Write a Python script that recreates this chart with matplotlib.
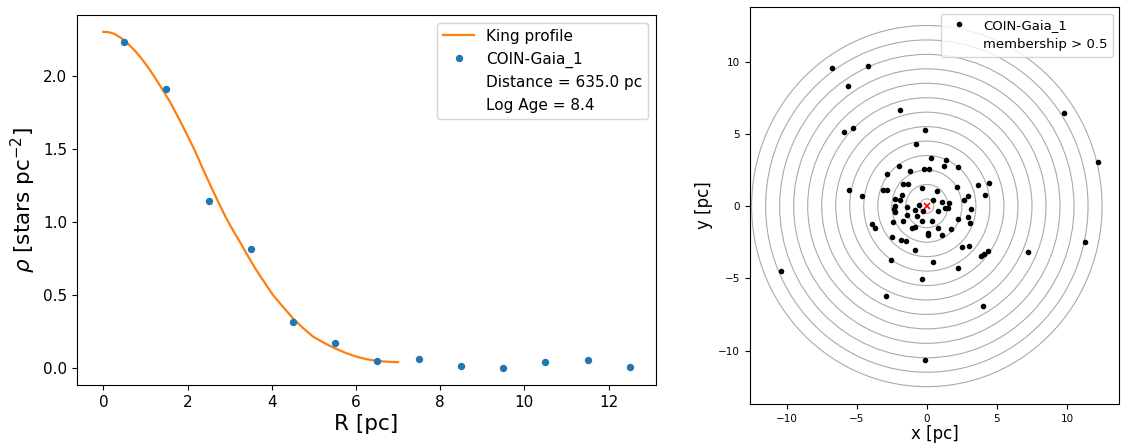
import matplotlib
matplotlib.use("Agg")
import matplotlib.pyplot as plt
from matplotlib.patches import Circle

# ---- Left panel: radial density profile ----
r_bins = [0.5, 1.5, 2.5, 3.5, 4.5, 5.5, 6.5, 7.5, 8.5, 9.5, 10.5, 11.5, 12.5]
rho_obs = [2.228, 1.909, 1.146, 0.818, 0.319, 0.173, 0.048, 0.064, 0.018, 0.0, 0.045, 0.055, 0.011]

king_r = [0.0, 0.15, 0.27, 0.42, 0.58, 0.74, 0.90, 1.06, 1.22, 1.46, 1.62, 1.77, 1.97, 2.17,
          2.36, 2.56, 2.74, 2.92, 3.08, 3.24, 3.43, 3.63, 3.83, 4.03, 4.27, 4.50, 4.74,
          4.98, 5.24, 5.49, 5.75, 6.01, 6.24, 6.48, 6.75, 7.0]
king_rho = [2.300, 2.296, 2.285, 2.258, 2.220, 2.174, 2.120, 2.058, 1.990, 1.880, 1.802,
            1.720, 1.607, 1.490, 1.365, 1.240, 1.130, 1.025, 0.942, 0.865, 0.768, 0.672,
            0.585, 0.500, 0.418, 0.342, 0.275, 0.216, 0.173, 0.137, 0.105, 0.079, 0.062,
            0.050, 0.044, 0.041]

cluster_name = "COIN-Gaia_1"
distance_pc = 635.0
log_age = 8.4

# ---- Right panel: member positions ----
star_x = [-6.77, -4.23, -5.59, -1.90, 9.76, -5.92, -5.27, -0.12, 12.23, -0.76,
          0.31, 1.38, -1.97, -0.17, 0.17, 1.21, 2.19, -1.21, -2.87, 3.66,
          4.44, -5.56, -4.66, -3.14, -2.83, -1.71, -1.35, -0.31, 0.74, 2.16,
          4.18, 2.97, 2.64, -1.76, -2.26, -1.92,
          -2.28, -2.33, -2.28, -1.43, -0.57, -0.86, -0.29, -0.71, -1.43, 0.43,
          0.78, 1.09, 1.26, 1.54, 1.59, 3.16, 2.95, 3.09, 2.23, 1.69,
          1.05, 0.83, 0.36, -0.31, -1.05, -0.88, 0.05, 0.10, -1.69, -2.42,
          -3.92, -3.68, -2.45, -1.83, -1.52, -0.88, 2.52, 3.02, -2.57, 0.43,
          2.21, -0.31, 3.88, 4.06, 4.35, 7.20, 11.26, -10.43, -2.92, 4.01, -0.14]
star_y = [9.58, 9.72, 8.33, 6.67, 6.46, 5.10, 5.42, 5.26, 3.03, 4.33,
          3.36, 3.22, 2.78, 2.55, 2.59, 2.80, 2.73, 2.41, 2.25, 1.46,
          1.60, 1.09, 0.72, 1.11, 1.11, 1.53, 1.53, 1.25, 1.06, 1.32,
          0.76, 0.69, 0.39, 0.74, 0.46, 0.44,
          0.0, -0.19, -0.42, -0.07, 0.05, -0.30, -0.37, -0.69, -0.63, 0.44,
          -0.37, 0.25, -0.16, -0.12, 0.23, -0.19, -0.79, -1.20, -0.90, -1.62,
          -2.01, -1.52, -1.03, -1.04, -1.53, -1.44, -1.85, -1.97, -1.04, -1.13,
          -1.23, -1.53, -2.17, -2.37, -2.44, -3.03, -2.80, -2.79, -3.73, -3.88,
          -4.31, -5.02, -3.47, -3.29, -3.13, -3.20, -2.50, -4.47, -6.25, -6.90, -10.63]
ring_radii = [0.5, 1.5, 2.5, 3.5, 4.5, 5.5, 6.5, 7.5, 8.5, 9.5, 10.5, 11.5, 12.5]
center_x = [0.0]
center_y = [0.0]
membership_cut = 0.5

fig = plt.figure(figsize=(11.21, 4.44), dpi=100)

ax1 = fig.add_axes([0.0687, 0.1329, 0.5165, 0.8333])
ax1.plot(king_r, king_rho, color="C1", lw=1.6, label="King profile")
ax1.plot(r_bins, rho_obs, "o", color="C0", ms=4.3, label=cluster_name)
ax1.plot([], [], " ", label=f"Distance = {distance_pc} pc")
ax1.plot([], [], " ", label=f"Log Age = {log_age}")
ax1.set_xlabel("R [pc]", fontsize=15.5, labelpad=3)
ax1.set_ylabel(r"$\rho$ [stars pc$^{-2}$]", fontsize=15.5)
ax1.tick_params(labelsize=11)
ax1.legend(loc="upper right", fontsize=11, handlelength=2.0)

ax2 = fig.add_axes([0.669, 0.0901, 0.3296, 0.8941])
for rr in ring_radii:
    ax2.add_patch(Circle((center_x[0], center_y[0]), rr, fill=False,
                         edgecolor="#aaaaaa", lw=0.8))
ax2.plot(star_x, star_y, "o", color="k", ms=3.0, label=cluster_name)
ax2.plot([], [], " ", label=f"membership > {membership_cut}")
ax2.plot(center_x, center_y, "x", color="red", ms=5, mew=1.2)
ax2.set_xlim(-12.62, 13.74)
ax2.set_ylim(-13.7, 13.78)
ax2.set_xlabel("x [pc]", fontsize=12, labelpad=1)
ax2.set_ylabel("y [pc]", fontsize=12)
ax2.tick_params(labelsize=7.5)
ax2.legend(loc="upper right", fontsize=9.5)

fig.savefig("out.png", dpi=100)
